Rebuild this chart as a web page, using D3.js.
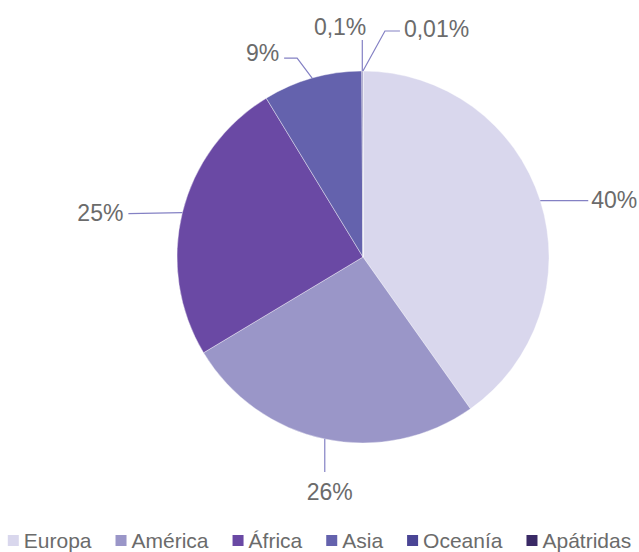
<!DOCTYPE html>
<html><head><meta charset="utf-8">
<script src="https://cdn.jsdelivr.net/npm/d3@7/dist/d3.min.js"></script>
<style>html,body{margin:0;padding:0;background:#fff;}svg{display:block;}</style>
</head><body>
<svg id="c" width="639" height="552"></svg>
<script>
const categories = ["Europa", "América", "África", "Asia", "Oceanía", "Apátridas"];
const values = [40.2, 26.2, 24.9, 8.6, 0.1, 0.01];
const labels = ["40%", "26%", "25%", "9%", "0,1%", "0,01%"];
const colors = ["#d9d7ed", "#9a96c8", "#6a49a4", "#6462ad", "#4a4595", "#3a2a66"];

const svg = d3.select("#c");
const cx = 363, cy = 257, R = 186;
const font = "'Liberation Sans', Arial, Helvetica, sans-serif";
const textColor = "#6b6b6b";
const lineColor = "#8481c4";

const pie = d3.pie().sort(null).value(d => d)(values);
const arc = d3.arc().innerRadius(0).outerRadius(R);
const g = svg.append("g").attr("transform", `translate(${cx},${cy})`);
g.selectAll("path").data(pie).join("path")
  .attr("d", arc)
  .attr("fill", (d, i) => colors[i])
  .attr("stroke", "#fff").attr("stroke-width", 0.4);

// leader lines: offsets relative to the slice edge point at its mid-angle
const leaders = [
  {pts: [[48, 0]], anchor: "start", dx: 3, dy: 7},
  {pts: [[0, 33]], anchor: "middle", dx: 5, dy: 28},
  {pts: [[-54, 1]], anchor: "end", dx: -5, dy: 7},
  {pts: [[-15, -20], [-28, -20]], anchor: "end", dx: -5, dy: 3},
  {pts: [[0, -31]], anchor: "end", dx: 4, dy: -5},
  {pts: [[22, -40], [37, -40]], anchor: "start", dx: 4, dy: 6}
];
pie.forEach((d, i) => {
  const a = (d.startAngle + d.endAngle) / 2;
  const p0 = [Math.sin(a) * R, -Math.cos(a) * R];
  const L = leaders[i];
  const pts = [p0].concat(L.pts.map(p => [p0[0] + p[0], p0[1] + p[1]]));
  g.append("path")
    .attr("d", d3.line()(pts))
    .attr("fill", "none").attr("stroke", lineColor).attr("stroke-width", 1.2);
  const last = pts[pts.length - 1];
  g.append("text")
    .attr("x", last[0] + L.dx).attr("y", last[1] + L.dy)
    .attr("text-anchor", L.anchor)
    .attr("font-family", font).attr("font-size", 23)
    .attr("fill", textColor)
    .text(labels[i]);
});

// legend
const lg = svg.append("g");
const fs = 21, sq = 11, gap = 5, spacing = 24;
let x = 0;
const items = categories.map((c, i) => {
  const t = lg.append("text").attr("font-family", font).attr("font-size", fs)
    .attr("fill", textColor).attr("y", 548).text(c);
  const w = t.node().getComputedTextLength();
  const it = {t, w, x, i};
  x += sq + gap + w + spacing;
  return it;
});
const total = x - spacing;
const x0 = (639 - total) / 2;
items.forEach(it => {
  lg.append("rect").attr("x", x0 + it.x).attr("y", 535).attr("width", sq).attr("height", sq)
    .attr("fill", colors[it.i]);
  it.t.attr("x", x0 + it.x + sq + gap);
});
</script>
</body></html>
